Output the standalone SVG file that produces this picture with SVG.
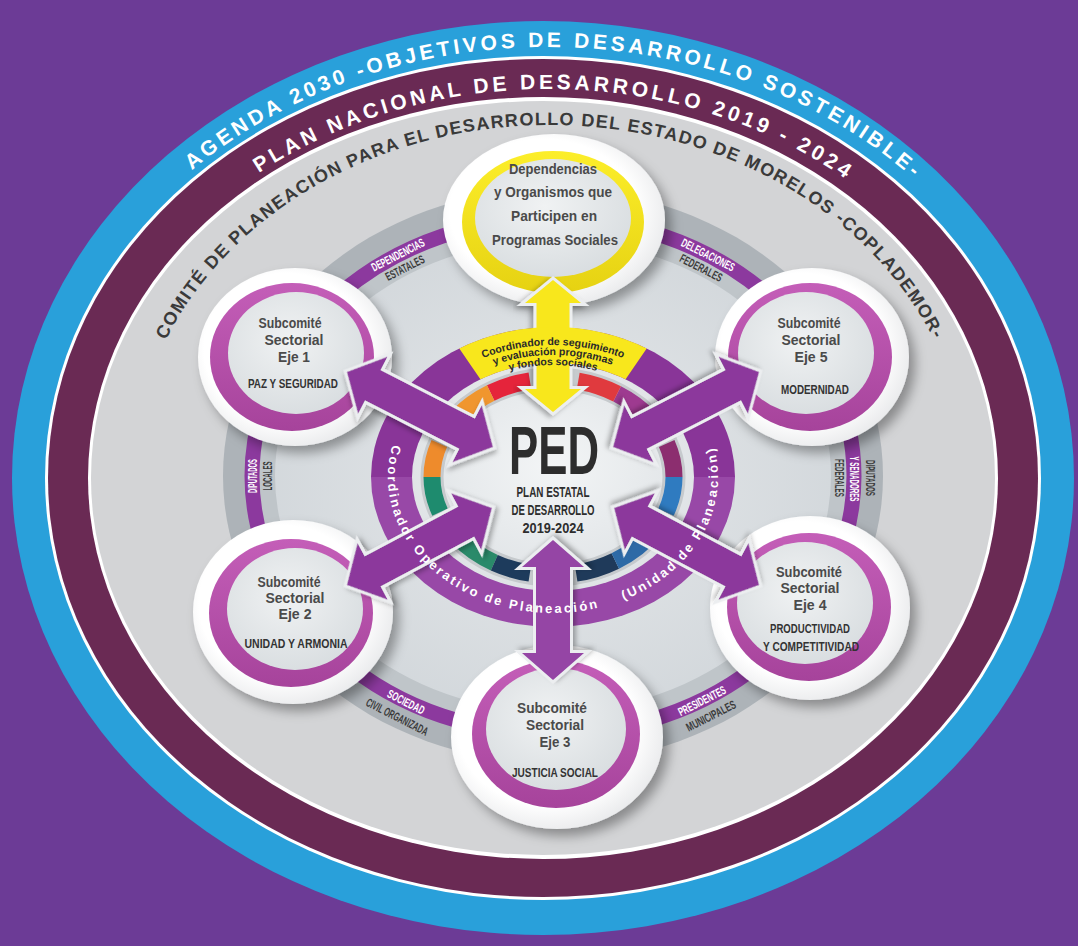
<svg xmlns="http://www.w3.org/2000/svg" width="1078" height="946" viewBox="0 0 1078 946">
<defs>
<style>
.band{font-family:"Liberation Sans",Arial,sans-serif;font-weight:bold}
.bl{fill:#fff;font-size:21px;letter-spacing:3.6px}
.mr{fill:#fff;font-size:21px;letter-spacing:3.7px}
.gr{fill:#3a3a3a;font-size:18px;letter-spacing:1.3px}
.lbl{font-family:"Liberation Sans",Arial,sans-serif;font-weight:bold;font-size:12px;text-anchor:middle;dominant-baseline:central}
.lw{fill:#fff}
.ld{fill:#3b3b3b}
.disc{fill:url(#gDisc);filter:url(#sh)}
.ring{fill:url(#gRing)}
.inner{fill:url(#gInner)}
.sub{font-family:"Liberation Sans",Arial,sans-serif;font-weight:bold;font-size:14px;fill:#4a4a4a;text-anchor:middle}
.axis{font-family:"Liberation Sans",Arial,sans-serif;font-weight:bold;font-size:13.5px;fill:#333;text-anchor:middle}
.arrow{stroke:#eceef0;stroke-width:6;stroke-linejoin:miter;paint-order:stroke;filter:url(#shs)}
.pa{fill:#8c389c}
.ya{fill:#f8e71c}
.seg{fill:none;stroke-width:17}
.dtxt{font-family:"Liberation Sans",Arial,sans-serif;font-weight:bold;font-size:13px;fill:#fff;letter-spacing:2.4px}
.ytxt{font-family:"Liberation Sans",Arial,sans-serif;font-weight:bold;font-size:10.5px;fill:#2a2a2a}
.ped{font-family:"Liberation Sans",Arial,sans-serif;font-weight:bold;fill:#2d2d2d;text-anchor:middle}
</style>
<filter id="sh" x="-25%" y="-25%" width="160%" height="160%"><feDropShadow dx="6" dy="7" stdDeviation="6" flood-color="#000" flood-opacity="0.35"/></filter>
<filter id="shs" x="-20%" y="-20%" width="140%" height="140%"><feDropShadow dx="2" dy="3" stdDeviation="2.5" flood-color="#000" flood-opacity="0.3"/></filter>
<radialGradient id="gDisc" cx="0.45" cy="0.45" r="0.6"><stop offset="0.7" stop-color="#ffffff"/><stop offset="1" stop-color="#e6e7e9"/></radialGradient>
<linearGradient id="gRing" x1="0" y1="0" x2="0" y2="1"><stop offset="0" stop-color="#c45eb8"/><stop offset="1" stop-color="#a6439b"/></linearGradient>
<linearGradient id="gYRing" x1="0" y1="0" x2="0" y2="1"><stop offset="0" stop-color="#fcee2a"/><stop offset="1" stop-color="#e6d212"/></linearGradient>
<radialGradient id="gInner" cx="0.45" cy="0.4" r="0.7"><stop offset="0" stop-color="#f0f2f3"/><stop offset="1" stop-color="#d6dbde"/></radialGradient>
<linearGradient id="gDonut" x1="0" y1="0" x2="0" y2="1"><stop offset="0" stop-color="#893598"/><stop offset="0.5" stop-color="#893598"/><stop offset="0.5" stop-color="#9848a7"/><stop offset="1" stop-color="#9848a7"/></linearGradient>
<radialGradient id="gCore" cx="0.5" cy="0.45" r="0.6"><stop offset="0" stop-color="#f3f5f6"/><stop offset="1" stop-color="#dde1e4"/></radialGradient>
<radialGradient id="gField" cx="0.5" cy="0.5" r="0.55"><stop offset="0" stop-color="#e6e9eb"/><stop offset="1" stop-color="#d2d7db"/></radialGradient>
<path id="pBlue" d="M40,477 A508,430 0 0 1 1056,477"/>
<path id="pMar" d="M83,477 A465,388 0 0 1 1013,477"/>
<path id="pGrey" d="M133,477 A417,352 0 0 1 967,477"/>
<path id="pDon" d="M553,341 A165,136 0 1 0 553,613 A165,136 0 1 0 553,341"/>
<path id="pY1" d="M392,477 A161,132 0 0 1 714,477"/>
<path id="pY2" d="M404,477 A149,122 0 0 1 702,477"/>
<path id="pY3" d="M416,477 A137,112 0 0 1 690,477"/>
</defs>

<rect width="1078" height="946" fill="#6c3b96"/>

<g id="frame">
<ellipse cx="543" cy="478" rx="531" ry="457" fill="#29a0da"/>
<ellipse cx="543" cy="478" rx="498" ry="422" fill="#ffffff"/>
<ellipse cx="543" cy="478" rx="495" ry="419" fill="#6a2a54"/>
<ellipse cx="543" cy="478" rx="455" ry="381" fill="#ffffff"/>
<ellipse cx="543" cy="478" rx="452" ry="377" fill="#d3d4d6"/>
<text class="band bl"><textPath href="#pBlue" startOffset="50.5%" text-anchor="middle">AGENDA 2030 -OBJETIVOS DE DESARROLLO SOSTENIBLE-</textPath></text>
<text class="band mr"><textPath href="#pMar" startOffset="50.5%" text-anchor="middle">PLAN NACIONAL DE DESARROLLO 2019 - 2024</textPath></text>
<text class="band gr"><textPath href="#pGrey" startOffset="50%" text-anchor="middle">COMITÉ DE PLANEACIÓN PARA EL DESARROLLO DEL ESTADO DE MORELOS -COPLADEMOR-</textPath></text>
</g>

<g id="ring-band">
<ellipse cx="553" cy="476" rx="330" ry="287" fill="#adb3b8"/>
<ellipse cx="553" cy="476" rx="301" ry="258" fill="#bfc5c9" stroke="#8c399e" stroke-width="15"/>
<ellipse cx="553" cy="476" rx="278" ry="236" fill="url(#gField)"/>
<text class="lbl lw" transform="translate(398,255) rotate(-27)" textLength="58" lengthAdjust="spacingAndGlyphs">DEPENDENCIAS</text>
<text class="lbl ld" transform="translate(405,268) rotate(-27)" textLength="42" lengthAdjust="spacingAndGlyphs">ESTATALES</text>
<text class="lbl lw" transform="translate(708,255) rotate(27)" textLength="58" lengthAdjust="spacingAndGlyphs">DELEGACIONES</text>
<text class="lbl ld" transform="translate(701,268) rotate(27)" textLength="46" lengthAdjust="spacingAndGlyphs">FEDERALES</text>
<text class="lbl lw" transform="translate(253,476) rotate(-90)" textLength="34" lengthAdjust="spacingAndGlyphs">DIPUTADOS</text>
<text class="lbl ld" transform="translate(268,476) rotate(-90)" textLength="29" lengthAdjust="spacingAndGlyphs">LOCALES</text>
<text class="lbl ld" transform="translate(870,478) rotate(90)" textLength="36" lengthAdjust="spacingAndGlyphs">DIPUTADOS</text>
<text class="lbl lw" transform="translate(854,479) rotate(90)" textLength="45" lengthAdjust="spacingAndGlyphs">Y SENADORES</text>
<text class="lbl ld" transform="translate(839,478) rotate(90)" textLength="38" lengthAdjust="spacingAndGlyphs">FEDERALES</text>
<text class="lbl lw" transform="translate(406,702) rotate(27)" textLength="40" lengthAdjust="spacingAndGlyphs">SOCIEDAD</text>
<text class="lbl ld" transform="translate(397,717) rotate(27)" textLength="68" lengthAdjust="spacingAndGlyphs">CIVIL ORGANIZADA</text>
<text class="lbl lw" transform="translate(702,701) rotate(-27)" textLength="52" lengthAdjust="spacingAndGlyphs">PRESIDENTES</text>
<text class="lbl ld" transform="translate(711,716) rotate(-27)" textLength="54" lengthAdjust="spacingAndGlyphs">MUNICIPALES</text>
</g>

<g id="node-dependencias">
<ellipse class="disc" cx="554" cy="220" rx="111" ry="86"/>
<ellipse cx="553" cy="222" rx="91" ry="71" fill="url(#gYRing)"/>
<ellipse class="inner" cx="553" cy="218" rx="78" ry="59"/>
<text class="sub" x="553" y="174" textLength="88" lengthAdjust="spacingAndGlyphs">Dependencias</text>
<text class="sub" x="553" y="197" textLength="118" lengthAdjust="spacingAndGlyphs">y Organismos que</text>
<text class="sub" x="554" y="221" textLength="86" lengthAdjust="spacingAndGlyphs">Participen en</text>
<text class="sub" x="555" y="245" textLength="126" lengthAdjust="spacingAndGlyphs">Programas Sociales</text>
</g>

<g id="node-eje1">
<ellipse class="disc" cx="295" cy="357" rx="97" ry="89"/>
<ellipse class="ring" cx="292" cy="357" rx="82" ry="74"/>
<ellipse class="inner" cx="296" cy="353" rx="68" ry="61"/>
<text class="sub" x="290" y="328" textLength="63" lengthAdjust="spacingAndGlyphs">Subcomité</text>
<text class="sub" x="294" y="345" textLength="59" lengthAdjust="spacingAndGlyphs">Sectorial</text>
<text class="sub" x="294" y="362" textLength="32" lengthAdjust="spacingAndGlyphs">Eje 1</text>
<text class="axis" x="293" y="388" textLength="90" lengthAdjust="spacingAndGlyphs">PAZ Y SEGURIDAD</text>
</g>

<g id="node-eje5">
<ellipse class="disc" cx="812" cy="357" rx="97" ry="89"/>
<ellipse class="ring" cx="810" cy="357" rx="82" ry="74"/>
<ellipse class="inner" cx="806" cy="353" rx="68" ry="61"/>
<text class="sub" x="809" y="328" textLength="63" lengthAdjust="spacingAndGlyphs">Subcomité</text>
<text class="sub" x="811" y="345" textLength="59" lengthAdjust="spacingAndGlyphs">Sectorial</text>
<text class="sub" x="811" y="362" textLength="33" lengthAdjust="spacingAndGlyphs">Eje 5</text>
<text class="axis" x="815" y="394" textLength="68" lengthAdjust="spacingAndGlyphs">MODERNIDAD</text>
</g>

<g id="node-eje2">
<ellipse class="disc" cx="293" cy="612" rx="100" ry="92"/>
<ellipse class="ring" cx="291" cy="613" rx="82" ry="74"/>
<ellipse class="inner" cx="295" cy="609" rx="68" ry="61"/>
<text class="sub" x="289" y="587" textLength="63" lengthAdjust="spacingAndGlyphs">Subcomité</text>
<text class="sub" x="295" y="603" textLength="59" lengthAdjust="spacingAndGlyphs">Sectorial</text>
<text class="sub" x="295" y="619" textLength="33" lengthAdjust="spacingAndGlyphs">Eje 2</text>
<text class="axis" x="296" y="648" textLength="103" lengthAdjust="spacingAndGlyphs">UNIDAD Y ARMONIA</text>
</g>

<g id="node-eje4">
<ellipse class="disc" cx="810" cy="608" rx="100" ry="92"/>
<ellipse class="ring" cx="809" cy="607" rx="82" ry="74"/>
<ellipse class="inner" cx="805" cy="603" rx="68" ry="61"/>
<text class="sub" x="809" y="577" textLength="66" lengthAdjust="spacingAndGlyphs">Subcomité</text>
<text class="sub" x="810" y="593" textLength="59" lengthAdjust="spacingAndGlyphs">Sectorial</text>
<text class="sub" x="810" y="610" textLength="33" lengthAdjust="spacingAndGlyphs">Eje 4</text>
<text class="axis" x="810" y="633" textLength="80" lengthAdjust="spacingAndGlyphs">PRODUCTIVIDAD</text>
<text class="axis" x="811" y="651" textLength="96" lengthAdjust="spacingAndGlyphs">Y COMPETITIVIDAD</text>
</g>

<g id="node-eje3">
<ellipse class="disc" cx="557" cy="737" rx="106" ry="92"/>
<ellipse class="ring" cx="556" cy="734" rx="84" ry="74"/>
<ellipse class="inner" cx="556" cy="729" rx="70" ry="61"/>
<text class="sub" x="552" y="713" textLength="70" lengthAdjust="spacingAndGlyphs">Subcomité</text>
<text class="sub" x="555" y="730" textLength="58" lengthAdjust="spacingAndGlyphs">Sectorial</text>
<text class="sub" x="555" y="747" textLength="31" lengthAdjust="spacingAndGlyphs">Eje 3</text>
<text class="axis" x="555" y="777" textLength="86" lengthAdjust="spacingAndGlyphs">JUSTICIA SOCIAL</text>
</g>

<g id="node-ped">
<ellipse cx="553" cy="477" rx="182" ry="150" fill="url(#gDonut)"/>
<ellipse cx="553" cy="477" rx="141" ry="114" fill="url(#gCore)"/>
<ellipse cx="553" cy="477" rx="121" ry="98" fill="none" stroke="#c6cacd" stroke-width="23"/>
<path class="seg" stroke="#8c2e6f" d="M674,477 A121,98 0 0 0 666.7,443.5"/>
<path class="seg" stroke="#9e3a90" d="M649.7,418 A121,98 0 0 0 617.1,393.9"/>
<path class="seg" stroke="#e03a3e" d="M617.1,393.9 A121,98 0 0 0 578.2,381.2"/>
<path class="seg" stroke="#e5243b" d="M529.9,380.8 A121,98 0 0 0 490.7,393"/>
<path class="seg" stroke="#f0962e" d="M490.7,393 A121,98 0 0 0 457.7,416.6"/>
<path class="seg" stroke="#ee8b2c" d="M439.3,443.5 A121,98 0 0 0 432,477"/>
<path class="seg" stroke="#1e8b6e" d="M432,477 A121,98 0 0 0 440,512.1"/>
<path class="seg" stroke="#2a8a6a" d="M457.7,537.4 A121,98 0 0 0 494.3,562.7"/>
<path class="seg" stroke="#1d3b5c" d="M494.3,562.7 A121,98 0 0 0 529.9,573.2"/>
<path class="seg" stroke="#1f3a5a" d="M576.1,573.2 A121,98 0 0 0 615.3,561"/>
<path class="seg" stroke="#2d6aa6" d="M615.3,561 A121,98 0 0 0 654.5,530.4"/>
<path class="seg" stroke="#2f7bc0" d="M666,512.1 A121,98 0 0 0 674,477"/>
</g>

<g id="connectors">
<polygon class="arrow ya" transform="translate(553,280) rotate(90)" points="0,0 23,-28 23,-16.5 109,-16.5 109,-28 132,0 109,28 109,16.5 23,16.5 23,28"/>
<path id="yellow-band" fill="#f8e71c" d="M459.3,348.4 A182,150 0 0 1 646.7,348.4 L625.6,379.3 A141,114 0 0 0 480.4,379.3 Z"/>
<polygon class="arrow pa" transform="translate(347,372) rotate(27.2)" points="0,0 29,-32 29,-17 135,-17 135,-32 164,0 135,32 135,17 29,17 29,32"/>
<polygon class="arrow pa" transform="translate(759,372) rotate(152.8)" points="0,0 29,-32 29,-17 135,-17 135,-32 164,0 135,32 135,17 29,17 29,32"/>
<polygon class="arrow pa" transform="translate(347,585) rotate(-28)" points="0,0 29,-32 29,-17 135,-17 135,-32 164,0 135,32 135,17 29,17 29,32"/>
<polygon class="arrow pa" transform="translate(759,585) rotate(-152)" points="0,0 29,-32 29,-17 135,-17 135,-32 164,0 135,32 135,17 29,17 29,32"/>
<polygon class="arrow" fill="#9545a5" transform="translate(553,680) rotate(-90)" points="0,0 27,-31 27,-17 113,-17 113,-31 140,0 113,31 113,17 27,17 27,31"/>
</g>

<g id="ped-labels">
<text class="ytxt"><textPath href="#pY1" startOffset="50%" text-anchor="middle">Coordinador de seguimiento</textPath></text>
<text class="ytxt"><textPath href="#pY2" startOffset="50%" text-anchor="middle">y evaluación programas</textPath></text>
<text class="ytxt"><textPath href="#pY3" startOffset="50%" text-anchor="middle">y fondos sociales</textPath></text>
<text class="dtxt"><textPath href="#pDon" startOffset="204">Coordinador Operativo de Planeación</textPath></text>
<text class="dtxt"><textPath href="#pDon" startOffset="546">(Unidad de Planeación)</textPath></text>
<text class="ped" x="554" y="474" font-size="68" textLength="90" lengthAdjust="spacingAndGlyphs">PED</text>
<text class="ped" x="553" y="497" font-size="15" textLength="73" lengthAdjust="spacingAndGlyphs">PLAN ESTATAL</text>
<text class="ped" x="553" y="515" font-size="15" textLength="83" lengthAdjust="spacingAndGlyphs">DE DESARROLLO</text>
<text class="ped" x="553" y="533" font-size="15" textLength="61" lengthAdjust="spacingAndGlyphs">2019-2024</text>
</g>
</svg>
